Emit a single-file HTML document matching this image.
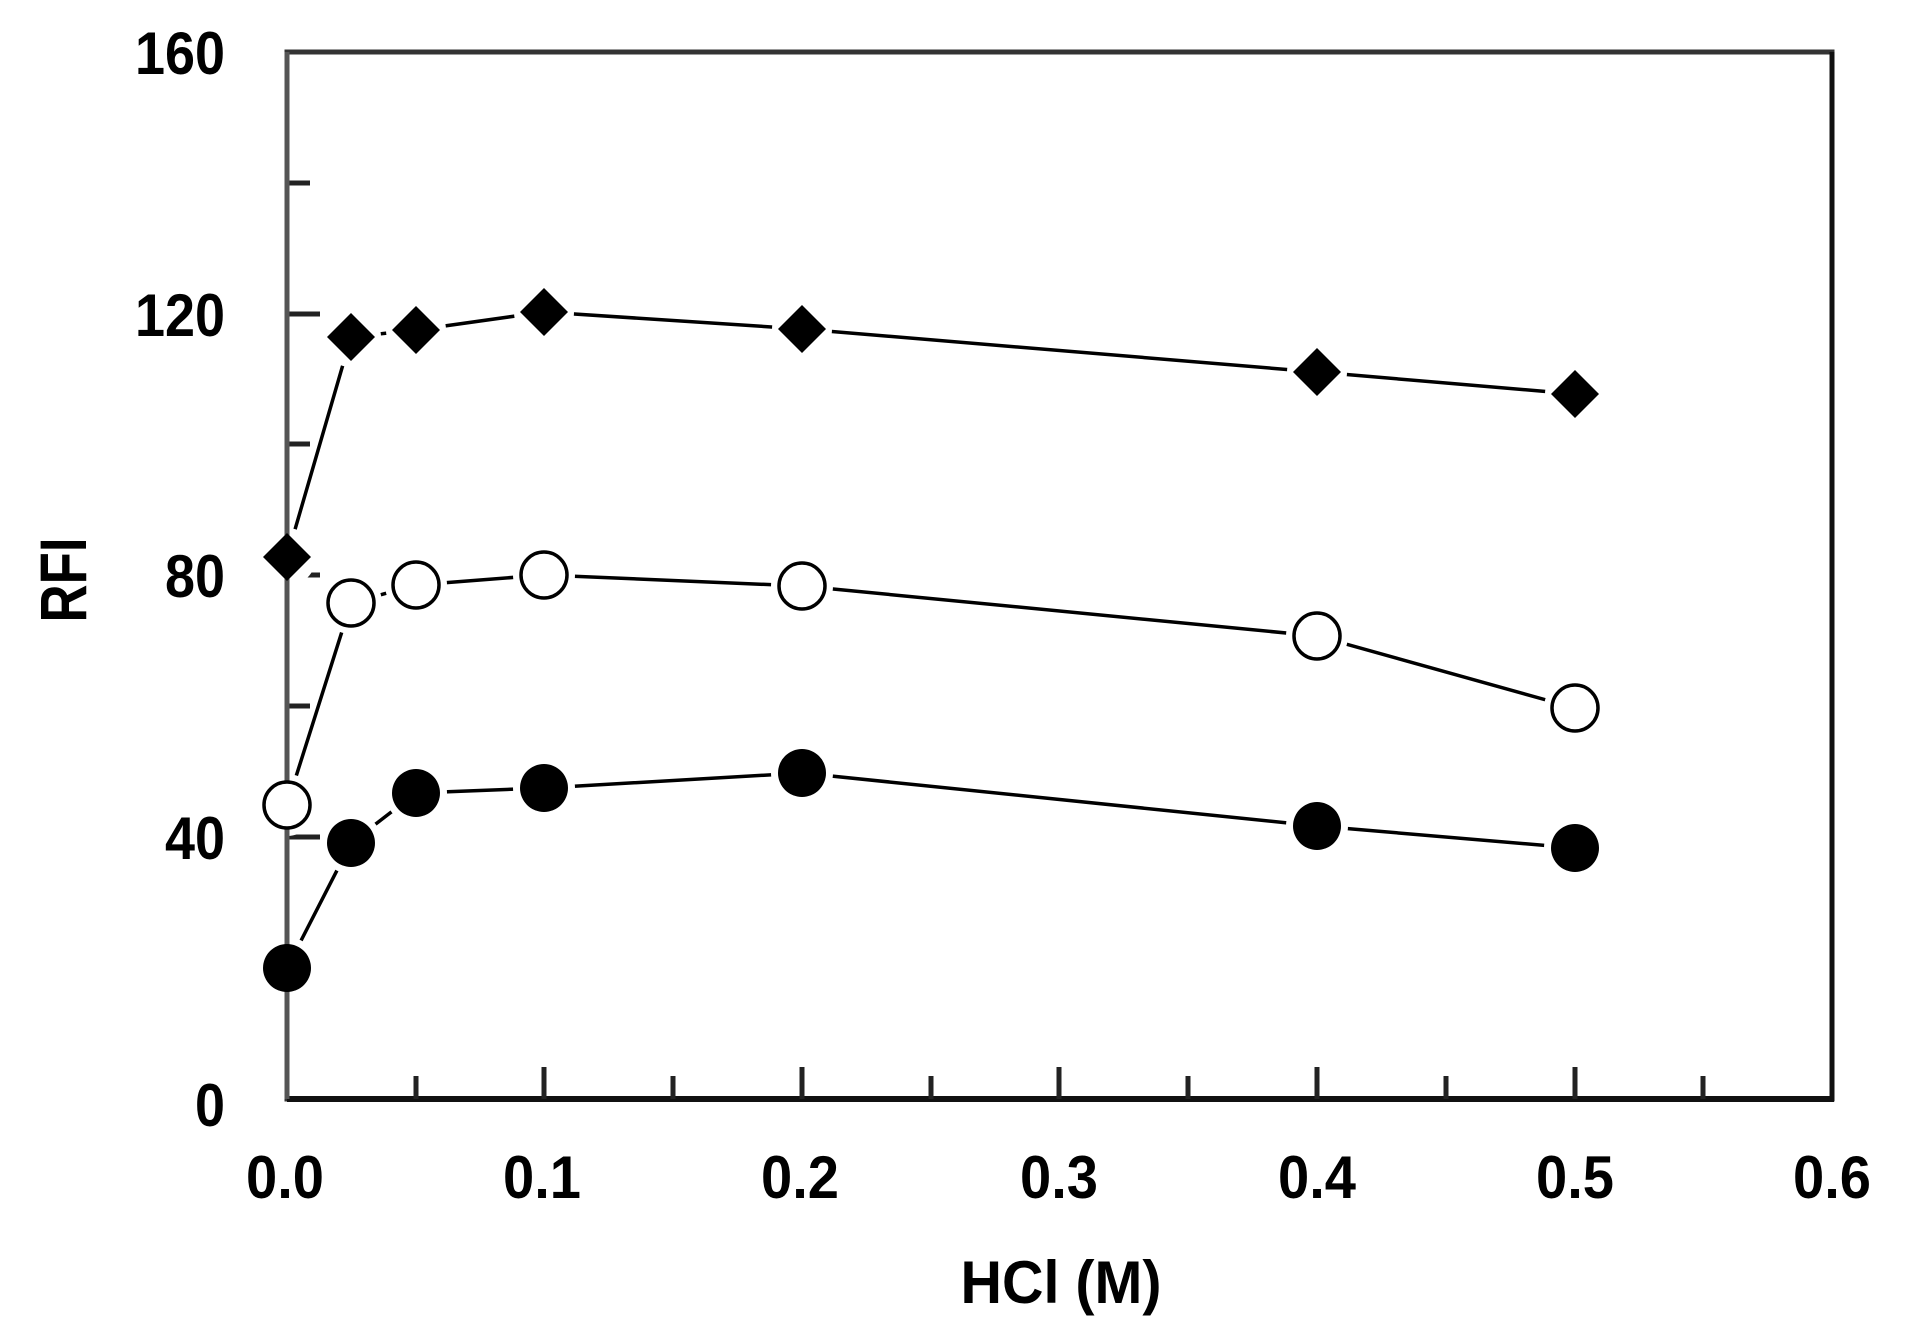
<!DOCTYPE html>
<html><head><meta charset="utf-8"><style>
html,body{margin:0;padding:0;background:#fff;}
svg{display:block;}
text{font-family:"Liberation Sans",Arial,sans-serif;font-weight:bold;fill:#000;}
</style></head><body>
<svg width="1906" height="1341" viewBox="0 0 1906 1341" xmlns="http://www.w3.org/2000/svg">
<rect x="287" y="52" width="1545" height="1047" fill="none" stroke="#333" stroke-width="5"/>
<line x1="287" y1="1099" x2="1834" y2="1099" stroke="#111" stroke-width="6"/>
<line x1="1832" y1="52" x2="1832" y2="1101" stroke="#111" stroke-width="5"/>
<g stroke="#222" stroke-width="5">
<line x1="416" y1="1099" x2="416" y2="1076"/><line x1="544" y1="1099" x2="544" y2="1067"/>
<line x1="673" y1="1099" x2="673" y2="1076"/><line x1="802" y1="1099" x2="802" y2="1067"/>
<line x1="931" y1="1099" x2="931" y2="1076"/><line x1="1059" y1="1099" x2="1059" y2="1067"/>
<line x1="1188" y1="1099" x2="1188" y2="1076"/><line x1="1317" y1="1099" x2="1317" y2="1067"/>
<line x1="1446" y1="1099" x2="1446" y2="1076"/><line x1="1575" y1="1099" x2="1575" y2="1067"/>
<line x1="1703" y1="1099" x2="1703" y2="1076"/>
<line x1="287" y1="968" x2="310" y2="968"/><line x1="287" y1="837" x2="320" y2="837"/>
<line x1="287" y1="706" x2="310" y2="706"/><line x1="287" y1="575" x2="320" y2="575"/>
<line x1="287" y1="444" x2="310" y2="444"/><line x1="287" y1="314" x2="320" y2="314"/>
<line x1="287" y1="183" x2="310" y2="183"/>
</g>
<g font-size="60" text-anchor="end">
<text x="225" y="1126" textLength="30" lengthAdjust="spacingAndGlyphs">0</text>
<text x="225" y="859" textLength="60" lengthAdjust="spacingAndGlyphs">40</text>
<text x="225" y="597" textLength="60" lengthAdjust="spacingAndGlyphs">80</text>
<text x="225" y="336" textLength="90" lengthAdjust="spacingAndGlyphs">120</text>
<text x="225" y="74" textLength="90" lengthAdjust="spacingAndGlyphs">160</text>
</g>
<g font-size="60" text-anchor="middle">
<text x="285" y="1198" textLength="78" lengthAdjust="spacingAndGlyphs">0.0</text>
<text x="542" y="1198" textLength="78" lengthAdjust="spacingAndGlyphs">0.1</text>
<text x="800" y="1198" textLength="78" lengthAdjust="spacingAndGlyphs">0.2</text>
<text x="1059" y="1198" textLength="78" lengthAdjust="spacingAndGlyphs">0.3</text>
<text x="1317" y="1198" textLength="78" lengthAdjust="spacingAndGlyphs">0.4</text>
<text x="1575" y="1198" textLength="78" lengthAdjust="spacingAndGlyphs">0.5</text>
<text x="1832" y="1198" textLength="78" lengthAdjust="spacingAndGlyphs">0.6</text>
<text x="1061" y="1303" textLength="201" lengthAdjust="spacingAndGlyphs">HCl (M)</text>
</g>
<text x="0" y="0" font-size="66" text-anchor="middle" transform="translate(86,580) rotate(-90)" textLength="85" lengthAdjust="spacingAndGlyphs">RFI</text>
<g fill="none" stroke="#000" stroke-width="3.5">
<polyline points="287,557 351,337 416,330 544,312 802,329 1317,372 1575,394"/>
<polyline points="287,805 351,603 416,585 544,575 802,586 1317,636 1575,708"/>
<polyline points="287,968 351,843 416,793 544,788 802,773 1317,826 1575,848"/>
</g>
<g fill="#fff">
<circle cx="287" cy="805" r="31"/><circle cx="351" cy="603" r="31"/><circle cx="416" cy="585" r="31"/><circle cx="544" cy="575" r="31"/><circle cx="802" cy="586" r="31"/><circle cx="1317" cy="636" r="31"/><circle cx="1575" cy="708" r="31"/>
<circle cx="287" cy="968" r="31"/><circle cx="351" cy="843" r="31"/><circle cx="416" cy="793" r="31"/><circle cx="544" cy="788" r="31"/><circle cx="802" cy="773" r="31"/><circle cx="1317" cy="826" r="31"/><circle cx="1575" cy="848" r="31"/>
<circle cx="351" cy="337" r="30"/><circle cx="416" cy="330" r="30"/><circle cx="544" cy="312" r="30"/><circle cx="802" cy="329" r="30"/><circle cx="1317" cy="372" r="30"/><circle cx="1575" cy="394" r="30"/><circle cx="287" cy="557" r="29"/>
</g>
<line x1="287" y1="52" x2="287" y2="1099" stroke="#555" stroke-width="5"/>
<g fill="#fff" stroke="#000" stroke-width="3.5">
<circle cx="287" cy="805" r="23"/><circle cx="351" cy="603" r="23"/><circle cx="416" cy="585" r="23"/><circle cx="544" cy="575" r="23"/><circle cx="802" cy="586" r="23"/><circle cx="1317" cy="636" r="23"/><circle cx="1575" cy="708" r="23"/>
</g>
<g fill="#000">
<circle cx="287" cy="968" r="24"/><circle cx="351" cy="843" r="24"/><circle cx="416" cy="793" r="24"/><circle cx="544" cy="788" r="24"/><circle cx="802" cy="773" r="24"/><circle cx="1317" cy="826" r="24"/><circle cx="1575" cy="848" r="24"/>
<path d="M287,533 L311,557 L287,581 L263,557Z"/>
<path d="M351,313 L375,337 L351,361 L327,337Z"/>
<path d="M416,306 L440,330 L416,354 L392,330Z"/>
<path d="M544,288 L568,312 L544,336 L520,312Z"/>
<path d="M802,305 L826,329 L802,353 L778,329Z"/>
<path d="M1317,348 L1341,372 L1317,396 L1293,372Z"/>
<path d="M1575,370 L1599,394 L1575,418 L1551,394Z"/>
</g>
</svg>
</body></html>
